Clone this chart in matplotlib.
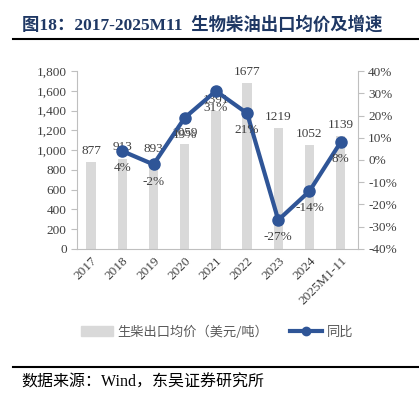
import matplotlib.pyplot as plt
import numpy as np
from matplotlib.lines import Line2D

plt.rcParams['font.family'] = ['Liberation Serif', 'Noto Sans CJK SC']

years = ['2017', '2018', '2019', '2020', '2021', '2022', '2023', '2024', '2025M1-11']
price = [877, 913, 893, 1059, 1391, 1677, 1219, 1052, 1139]
yoy = [None, 4, -2, 19, 31, 21, -27, -14, 8]

navy = '#1F3864'
bar_c = '#D9D9D9'
line_c = '#2F5597'
txt_c = '#404040'
ax_c = '#BFBFBF'

fig = plt.figure(figsize=(4.19, 3.99), dpi=100)
ax = fig.add_axes([0.184, 0.376, 0.67, 0.446])
ax2 = ax.twinx()

x = np.arange(len(years))
ax.bar(x, price, width=0.3, color=bar_c, zorder=1)
for xi, v in zip(x, price):
    ax.text(xi, v + 55, str(v), ha='center', va='bottom', fontsize=9.5, color=txt_c)

ax.set_ylim(0, 1800)
ax.set_yticks(np.arange(0, 1801, 200))
ax.set_yticklabels([f'{v:,}' for v in range(0, 1801, 200)])
ax.set_xlim(-0.45, 8.55)
ax.set_xticks(x)
ax.set_xticklabels(years, rotation=45, ha='right', rotation_mode='anchor')

xs = [xi for xi, v in zip(x, yoy) if v is not None]
ys = [v for v in yoy if v is not None]
ax2.plot(xs, ys, color=line_c, lw=3, marker='o', ms=8, zorder=3)
for xi, v in zip(xs, ys):
    ax2.text(xi, v - 5, f'{v}%', ha='center', va='top', fontsize=9.5, color=txt_c)
ax2.set_ylim(-40, 40)
ax2.set_yticks(np.arange(-40, 41, 10))
ax2.set_yticklabels([f'{v}%' for v in range(-40, 41, 10)])

for a in (ax, ax2):
    for s in a.spines.values():
        s.set_visible(False)
    a.tick_params(colors=ax_c, labelcolor=txt_c, labelsize=9.5, length=4, width=0.8)
ax.spines['left'].set_visible(True)
ax.spines['left'].set_color(ax_c)
ax.spines['bottom'].set_visible(True)
ax.spines['bottom'].set_color(ax_c)
ax2.spines['right'].set_visible(True)
ax2.spines['right'].set_color(ax_c)
ax.tick_params(axis='x', length=0, pad=4)
ax2.patch.set_visible(False)

handles = [plt.Rectangle((0, 0), 1, 1, color=bar_c),
           Line2D([], [], color=line_c, lw=3, marker='o', ms=6)]
fig.legend(handles, ['生柴出口均价（美元/吨）', '同比'], loc='center',
           bbox_to_anchor=(0.518, 0.168), ncol=2, frameon=False,
           handlelength=2.4, handletextpad=0.35, columnspacing=1.7, labelcolor='#595959',
           prop={'family': ['Noto Sans CJK SC'], 'size': 9.5})

fig.text(0.052, 0.937, '图18：2017-2025M11  生物柴油出口均价及增速', fontsize=12.5,
         fontweight='bold', color=navy, va='center')
fig.add_artist(Line2D([0.032, 1.0], [0.902, 0.902], color='black', lw=1.5))
fig.add_artist(Line2D([0.032, 1.0], [0.08, 0.08], color='black', lw=1.5))
fig.text(0.052, 0.042, '数据来源：Wind，东吴证券研究所', fontsize=11.5, color='black', va='center')

fig.savefig('out.png', dpi=100)
